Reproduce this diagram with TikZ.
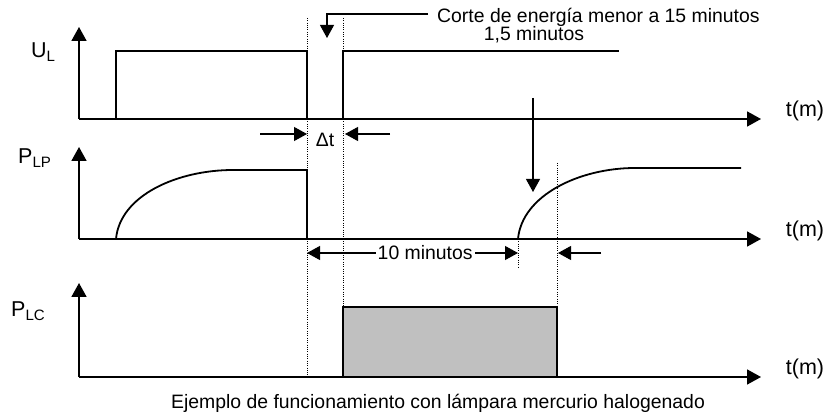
\documentclass[tikz,border=0pt]{standalone}
\usepackage{fontspec}
\setmainfont{Liberation Sans}
\usetikzlibrary{arrows.meta}

\definecolor{relleno}{RGB}{192,192,192}
\tikzset{
    senal/.style={line width=1.8pt},
    eje/.style={line width=1.8pt, -{Triangle[length=14pt,width=15pt]}},
    flecha/.style={line width=1.1pt, -{Triangle[length=13pt,width=14pt]}},
    corte/.style={line width=0.9pt, dash pattern=on 1pt off 1.3pt},
    txt/.style={font=\fontsize{19.4}{22}\selectfont, inner sep=0pt},
    ejetxt/.style={font=\fontsize{21.5}{24}\selectfont, inner sep=0pt}
}

\begin{document}
\begin{tikzpicture}[x=1pt,y=-1pt]
\useasboundingbox (0,0) rectangle (827,419);

% ejes
\coordinate (o1) at (79,119);
\coordinate (o2) at (79,239);
\coordinate (o3) at (79,377);
\draw[eje] (o1) -- ++(0,-92);
\draw[eje] (o1) -- ++(682,0);
\draw[eje] (o2) -- ++(0,-92);
\draw[eje] (o2) -- ++(682,0);
\draw[eje] (o3) -- ++(0,-94);
\draw[eje] (o3) -- ++(682,0);

\node[ejetxt, anchor=base west] (ul) at (31,58) {U\textsubscript{L}};
\node[ejetxt, anchor=base west] (plp) at (18,164) {P\textsubscript{LP}};
\node[ejetxt, anchor=base west] (plc) at (11,317) {P\textsubscript{LC}};
\node[ejetxt] (t1) at (805,111) {t(m)};
\node[ejetxt] (t2) at (805,231) {t(m)};
\node[ejetxt] (t3) at (805,369) {t(m)};

% cortes
\coordinate (c1) at (307,18);
\coordinate (c2) at (343,18);
\coordinate (c3) at (518,239);
\coordinate (c4) at (557,163);
\draw[corte] (c1) -- ++(0,359);
\draw[corte] (c2) -- ++(0,289);
\draw[corte] (c3) -- ++(0,29);
\draw[corte] (c4) -- ++(0,144);

% U_L
\draw[senal]
    (116,119) -- ++(0,-68) -- (307,51) -- (307,119)
    (343,119) -- ++(0,-68) -- (619,51);

% P_LP
\draw[senal]
    (116,239) .. controls (120,195) and (178,170) .. (233,170) -- (307,170) -- (307,239)
    (518,239) .. controls (522,195) and (580,168) .. (635,168) -- (741,168);

% P_LC
\draw[senal, fill=relleno] (343,307) rectangle (557,377);

% anotaciones
\draw[flecha] (260,134) -- (c1 |- 0,134);
\draw[flecha] (390,134) -- ([xshift=2pt]c2 |- 0,134);
\node[txt] (dt) at (325,140) {Δt};

\draw[flecha] (428,14) -- (327,14) -- (327,38);
\node[txt, anchor=west] (corte) at (437,17) {Corte de energía menor a 15 minutos};
\node[txt] (min) at (534,35) {1,5 minutos};

\draw[flecha] (533,98) -- (533,192);

\draw[flecha, {Triangle[length=13pt,width=14pt]}-{Triangle[length=13pt,width=14pt]}]
    (c1 |- 0,253) -- (c3 |- 0,253) node[txt, pos=0.56, fill=white, inner xsep=2pt] (diez) {10 minutos};
\draw[flecha] (601,253) -- ([xshift=1pt]c4 |- 0,253);

\node[txt] (pie) at (438,403) {Ejemplo de funcionamiento con lámpara mercurio halogenado};
\end{tikzpicture}
\end{document}
